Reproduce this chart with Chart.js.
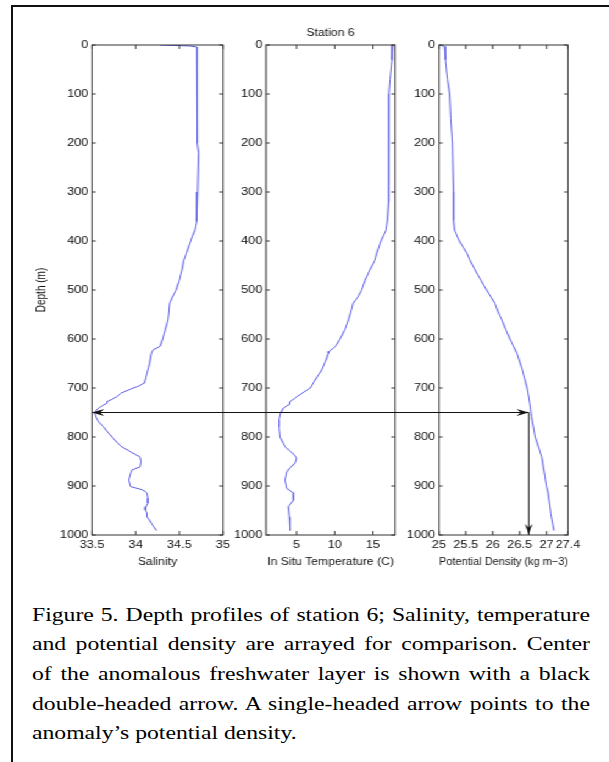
<!DOCTYPE html>
<html>
<head>
<meta charset="utf-8">
<script src="https://cdn.jsdelivr.net/npm/chart.js@4"></script>
<style>
  body { margin: 0; background: #fff; width: 609px; height: 762px; overflow: hidden; position: relative; }
  #frame { position: absolute; left: 11px; top: 5px; right: -10px; bottom: -10px; border-left: 2px solid #111; border-top: 2px solid #111; }
  /* the original figure is stretched horizontally, so the charts and caption are too */
  #fig { position: absolute; left: 0; top: 0; width: 499px; height: 575px; transform: scaleX(1.2204); transform-origin: 0 0; }
  #fig canvas { position: absolute; left: 0; top: 0; }
  #caption { position: absolute; left: 32px; top: 599.5px; width: 457.2px; transform: scaleX(1.2204); transform-origin: 0 0;
             font-family: "Liberation Serif", "Times New Roman", serif; font-size: 19.4px; line-height: 29.7px; color: #000; }
  #caption div { text-align: justify; text-align-last: justify; }
  #caption div.last { text-align-last: left; }
</style>
</head>
<body>
<div id="frame"></div>
<div id="fig">
  <canvas id="salChart" width="499" height="575"></canvas>
  <canvas id="tempChart" width="499" height="575"></canvas>
  <canvas id="densChart" width="499" height="575"></canvas>
</div>
<div id="caption">
  <div>Figure 5. Depth profiles of station 6; Salinity, temperature</div>
  <div>and potential density are arrayed for comparison. Center</div>
  <div>of the anomalous freshwater layer is shown with a black</div>
  <div>double-headed arrow. A single-headed arrow points to the</div>
  <div class="last">anomaly’s potential density.</div>
</div>
<script>
// tick labels
const DEPTH_TICKS = [0, 100, 200, 300, 400, 500, 600, 700, 800, 900, 1000];
const SAL_TICKS = [33.5, 34, 34.5, 35];
const TEMP_TICKS = [5, 10, 15];
const DENS_TICKS = [25, 25.5, 26, 26.5, 27, 27.4];

// salinity profile
const SAL_DEPTH = [0, 2, 4, 50, 100, 150, 200, 220, 300, 360, 378, 390, 400, 425, 440, 459, 480, 501, 515, 527,
  545, 561, 580, 600, 615, 622, 629, 650, 670, 690, 697, 703, 710, 718, 724, 728, 731, 738, 745, 751,
  761, 770, 779, 790, 800, 810, 820, 830, 841, 850, 861, 867, 875, 888, 901, 908, 914, 925, 935, 942,
  949, 955, 963, 970, 976, 984, 991];
const SAL = [34.28, 34.62, 34.70, 34.70, 34.70, 34.71, 34.71, 34.72, 34.71, 34.70, 34.68, 34.65, 34.63, 34.58, 34.55, 34.53, 34.50, 34.46, 34.42, 34.39,
  34.38, 34.37, 34.34, 34.31, 34.28, 34.20, 34.18, 34.16, 34.13, 34.10, 34.02, 33.93, 33.84, 33.78, 33.72, 33.67, 33.67, 33.60, 33.55, 33.53,
  33.55, 33.58, 33.63, 33.68, 33.73, 33.78, 33.84, 33.94, 34.05, 34.06, 34.05, 33.96, 33.94, 33.92, 33.94, 34.08, 34.13, 34.14, 34.14, 34.12,
  34.11, 34.13, 34.13, 34.16, 34.18, 34.21, 34.24];

// in situ temperature profile
const TEMP_DEPTH = [0, 30, 70, 100, 200, 300, 320, 357, 378, 400, 425, 440, 459, 480, 501, 515, 527, 545, 561, 580,
  600, 615, 625, 629, 645, 663, 684, 700, 710, 718, 728, 733, 741, 751, 765, 780, 800, 820, 835, 843,
  853, 862, 871, 888, 905, 914, 929, 942, 963, 991];
const TEMP = [17.6, 17.5, 17.25, 17.1, 17.03, 17.1, 17.1, 16.9, 16.72, 16.05, 15.5, 15.25, 14.6, 13.97, 13.5, 13.0, 12.4, 12.1, 11.8, 11.35,
  10.7, 10.1, 9.3, 9.17, 8.8, 8.3, 7.42, 6.8, 5.8, 5.0, 4.14, 4.1, 3.27, 2.9, 2.7, 2.7, 2.83, 3.49, 4.6, 5.0,
  4.8, 4.2, 3.71, 3.49, 3.71, 4.58, 4.58, 3.93, 4.05, 4.14];

// potential density profile
const DENS_DEPTH = [0, 3, 30, 70, 100, 150, 200, 300, 357, 378, 400, 425, 440, 459, 480, 501, 527, 545, 561, 580,
  600, 629, 663, 700, 731, 758, 800, 840, 853, 880, 901, 914, 956, 991];
const DENS = [25.02, 25.1, 25.12, 25.16, 25.2, 25.22, 25.25, 25.27, 25.27, 25.29, 25.38, 25.52, 25.58, 25.67, 25.78, 25.89, 26.04, 26.10, 26.17, 26.24,
  26.32, 26.45, 26.55, 26.64, 26.69, 26.72, 26.79, 26.91, 26.93, 26.97, 27.0, 27.03, 27.08, 27.14];

// anomaly arrows
const ARROW_DEPTH = 750;
const ARROW_SAL = 33.5;
const ARROW_DENS = 26.67;

const LINE_COLOR = '#5c5ce6';
const TEXT_COLOR = '#111';
const FONT = 'Liberation Sans, Arial, sans-serif';

// MATLAB-like box with inward ticks on all sides
const boxTicks = {
  id: 'boxTicks',
  afterDraw(chart) {
    const { ctx, chartArea: a, scales: { x, y } } = chart;
    ctx.save();
    ctx.strokeStyle = '#333';
    ctx.lineWidth = 1;
    ctx.beginPath();
    x.ticks.forEach(t => {
      const px = x.getPixelForValue(t.value);
      ctx.moveTo(px, a.bottom); ctx.lineTo(px, a.bottom - 4);
      ctx.moveTo(px, a.top); ctx.lineTo(px, a.top + 4);
    });
    y.ticks.forEach(t => {
      const py = y.getPixelForValue(t.value);
      ctx.moveTo(a.left, py); ctx.lineTo(a.left + 3, py);
      ctx.moveTo(a.right, py); ctx.lineTo(a.right - 3, py);
    });
    ctx.stroke();
    ctx.strokeRect(a.left, a.top, a.right - a.left, a.bottom - a.top);
    ctx.restore();
  }
};

function head(ctx, x, y, dx, dy, len, half) {
  const nx = -dy, ny = dx;
  ctx.beginPath();
  ctx.moveTo(x, y);
  ctx.lineTo(x - dx * len + nx * half, y - dy * len + ny * half);
  ctx.lineTo(x - dx * len * 0.65, y - dy * len * 0.65);
  ctx.lineTo(x - dx * len - nx * half, y - dy * len - ny * half);
  ctx.closePath();
  ctx.fill();
}

let salChart, tempChart, densChart;

const arrows = {
  id: 'arrows',
  afterDraw(chart) {
    const ctx = chart.ctx;
    const y0 = salChart.scales.y.getPixelForValue(ARROW_DEPTH);
    const xL = salChart.scales.x.getPixelForValue(ARROW_SAL);
    const xR = chart.scales.x.getPixelForValue(ARROW_DENS);
    const yB = chart.scales.y.getPixelForValue(DEPTH_TICKS[DEPTH_TICKS.length - 1]);
    ctx.save();
    ctx.strokeStyle = '#111';
    ctx.fillStyle = '#111';
    ctx.lineWidth = 1;
    ctx.beginPath();
    ctx.moveTo(xL, y0); ctx.lineTo(xR, y0);
    ctx.moveTo(xR, y0); ctx.lineTo(xR, yB);
    ctx.stroke();
    head(ctx, xL, y0, -1, 0, 10, 3.5);
    head(ctx, xR, y0, 1, 0, 10, 3.5);
    head(ctx, xR, yB, 0, 1, 11, 3);
    ctx.restore();
  }
};

function makeChart(id, o) {
  return new Chart(document.getElementById(id), {
    type: 'scatter',
    data: {
      datasets: [{
        data: o.values.map((v, i) => ({ x: v, y: o.depths[i] })),
        borderColor: LINE_COLOR,
        borderWidth: 1,
        pointRadius: 0,
        showLine: true,
        tension: 0,
        fill: false
      }]
    },
    options: {
      responsive: false,
      animation: false,
      events: [],
      layout: { padding: o.padding },
      plugins: {
        legend: { display: false },
        tooltip: { enabled: false },
        title: {
          display: !!o.title,
          text: o.title,
          fullSize: false,
          color: TEXT_COLOR,
          font: { family: FONT, size: 10, weight: 'normal', lineHeight: 1.2 },
          padding: { top: 0, bottom: 6 }
        }
      },
      scales: {
        x: {
          type: 'linear',
          position: 'bottom',
          min: o.xMin,
          max: o.xMax,
          afterBuildTicks: s => { s.ticks = o.xTicks.map(v => ({ value: v })); },
          afterFit: s => { s.height = 33.7; },
          grid: { display: false, drawTicks: false },
          border: { display: false },
          ticks: { padding: 3.5, color: TEXT_COLOR, font: { family: FONT, size: 10.5 }, maxRotation: 0, autoSkip: false, callback: v => String(v) },
          title: { display: true, text: o.xTitle, padding: 0, color: TEXT_COLOR, font: { family: FONT, size: 10, lineHeight: 1.2 } }
        },
        y: {
          type: 'linear',
          reverse: true,
          min: 0,
          max: 1000,
          afterBuildTicks: s => { s.ticks = DEPTH_TICKS.map(v => ({ value: v })); },
          afterFit: s => { s.width = o.yWidth; },
          grid: { display: false, drawTicks: false },
          border: { display: false },
          ticks: { padding: 3, color: TEXT_COLOR, font: { family: FONT, size: 10.5 }, autoSkip: false, callback: v => String(v) },
          title: { display: !!o.yTitle, text: o.yTitle, padding: 0, color: TEXT_COLOR, font: { family: FONT, size: 10, lineHeight: 1.2 } }
        }
      }
    },
    plugins: o.plugins
  });
}

salChart = makeChart('salChart', {
  values: SAL, depths: SAL_DEPTH, xMin: 33.5, xMax: 35, xTicks: SAL_TICKS,
  xTitle: 'Salinity', yTitle: 'Depth (m)', yWidth: 47.4,
  padding: { left: 28, right: 316.3, top: 45, bottom: 6.3 },
  plugins: [boxTicks]
});

tempChart = makeChart('tempChart', {
  values: TEMP, depths: TEMP_DEPTH, xMin: 1, xMax: 17.9, xTicks: TEMP_TICKS,
  xTitle: 'In Situ Temperature (C)', title: 'Station 6', yWidth: 30,
  padding: { left: 188, right: 175.3, top: 27, bottom: 6.3 },
  plugins: [boxTicks]
});

densChart = makeChart('densChart', {
  values: DENS, depths: DENS_DEPTH, xMin: 25, xMax: 27.4, xTicks: DENS_TICKS,
  xTitle: 'Potential Density (kg m\u22123)', yWidth: 30,
  padding: { left: 329.7, right: 33.6, top: 45, bottom: 6.3 },
  plugins: [boxTicks, arrows]
});
</script>
</body>
</html>
